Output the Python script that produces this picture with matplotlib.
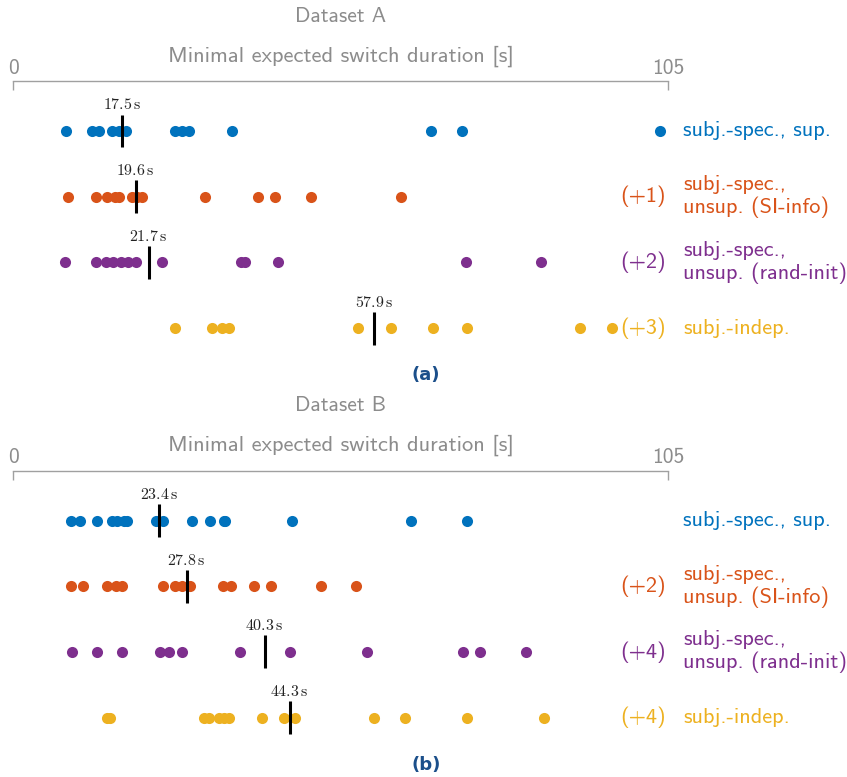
import matplotlib
matplotlib.use("Agg")
import matplotlib.pyplot as plt

plt.rcParams["font.family"] = ["cmss10", "DejaVu Sans"]
plt.rcParams["mathtext.fontset"] = "cm"
plt.rcParams["axes.formatter.use_mathtext"] = True

# ---- data (seconds) ----
row_labels = ["subj.-spec., sup.", "subj.-spec.,\nunsup. (SI-info)",
              "subj.-spec.,\nunsup. (rand-init)", "subj.-indep."]
colors = ["#0072BD", "#D95319", "#7E2F8E", "#EDB120"]

a_sup = [8.4, 12.6, 13.7, 15.8, 17.0, 18.0, 25.9, 27.0, 28.1, 35.1, 67.0, 72.0, 103.6]
a_si = [8.7, 13.2, 15.1, 16.3, 16.9, 19.0, 19.8, 20.7, 30.8, 39.3, 41.9, 47.8, 62.2]
a_rand = [8.3, 13.2, 14.8, 16.0, 17.2, 18.4, 19.6, 23.8, 36.5, 37.1, 42.5, 72.6, 84.6]
a_indep = [26.0, 31.9, 33.4, 34.5, 55.3, 60.6, 67.2, 72.8, 90.8, 96.0]
a_medians = [17.5, 19.6, 21.7, 57.9]
a_extra = [0, 1, 2, 3]

b_sup = [9.25, 10.7, 13.4, 15.9, 16.6, 17.7, 18.2, 22.8, 24.0, 28.7, 31.5, 33.7, 34.0,
         44.7, 63.8, 72.7]
b_si = [9.25, 11.1, 15.1, 16.4, 17.4, 24.0, 26.0, 27.0, 28.4, 33.6, 34.9, 38.6, 41.3,
        49.3, 55.0]
b_rand = [9.4, 13.4, 17.4, 23.5, 25.0, 27.0, 36.3, 44.3, 56.7, 72.1, 74.8, 82.2]
b_indep = [15.1, 15.5, 30.5, 31.4, 32.9, 33.8, 34.6, 39.9, 43.4, 45.2, 57.9, 62.8,
           72.7, 85.0]
b_medians = [23.4, 27.8, 40.3, 44.3]
b_extra = [0, 2, 4, 4]

x_max = 105
W, H = 847, 777
gray = "#8c8c8c"
axis_gray = "#a0a0a0"

fig = plt.figure(figsize=(W / 100, H / 100), dpi=100)


def panel(top_px, title, letter, rows, medians, extra):
    left_px, right_px = 13.3, 668.3
    height_px = 280
    row_gap = 65.7
    first = 50.0
    ax = fig.add_axes([left_px / W, 1 - (top_px + height_px) / H,
                       (right_px - left_px) / W, height_px / H])
    ax.set_xlim(0, x_max)
    ax.set_ylim((height_px - first) / row_gap, -first / row_gap)
    for s in ("left", "right", "bottom"):
        ax.spines[s].set_visible(False)
    ax.spines["top"].set_color(axis_gray)
    ax.spines["top"].set_linewidth(1.0)
    ax.xaxis.tick_top()
    ax.set_xticks([0, x_max])
    ax.set_xticklabels(["0", str(x_max)])
    ax.tick_params(axis="x", direction="in", length=6.5, width=1.0, color=axis_gray,
                   labelcolor=gray, labelsize=15.5, pad=2.5)
    ax.set_yticks([])
    ax.patch.set_alpha(0)

    ax.text(0.5, 1 + 25 / height_px, "Minimal expected switch duration [s]",
            transform=ax.transAxes, ha="center", va="center", fontsize=16.2, color=gray)
    ax.text(0.5, 1 + 65 / height_px, title, transform=ax.transAxes,
            ha="center", va="center", fontsize=15.5, color=gray)

    for i, (vals, m, n, c, lab) in enumerate(zip(rows, medians, extra, colors, row_labels)):
        ax.plot(vals, [i] * len(vals), "o", ms=8, color=c, mec="none", clip_on=False)
        ax.vlines(m, i - 0.25, i + 0.25, color="black", lw=2.2)
        ax.annotate(f"${m}\\,\\mathrm{{s}}$", (m, i), xytext=(0, 15.5),
                    textcoords="offset points", ha="center", va="baseline",
                    fontsize=11.5, color="#222222")
        ax.text(107.4, i, lab, ha="left", va="center", fontsize=16, color=c,
                clip_on=False, linespacing=1.15)
        if n:
            ax.text(104.6, i, f"(+{n})", ha="right", va="center", fontsize=16,
                    color=c, clip_on=False)

    fig.text(426 / W, 1 - (top_px + 294.5) / H, letter, ha="center", va="center",
             fontsize=13, fontweight="bold", color="#1b4f8a", family="DejaVu Sans")
    return ax


panel(81, "Dataset A", "(a)", [a_sup, a_si, a_rand, a_indep], a_medians, a_extra)
panel(470.5, "Dataset B", "(b)", [b_sup, b_si, b_rand, b_indep], b_medians, b_extra)

fig.savefig("out.png", dpi=100, facecolor="white")
